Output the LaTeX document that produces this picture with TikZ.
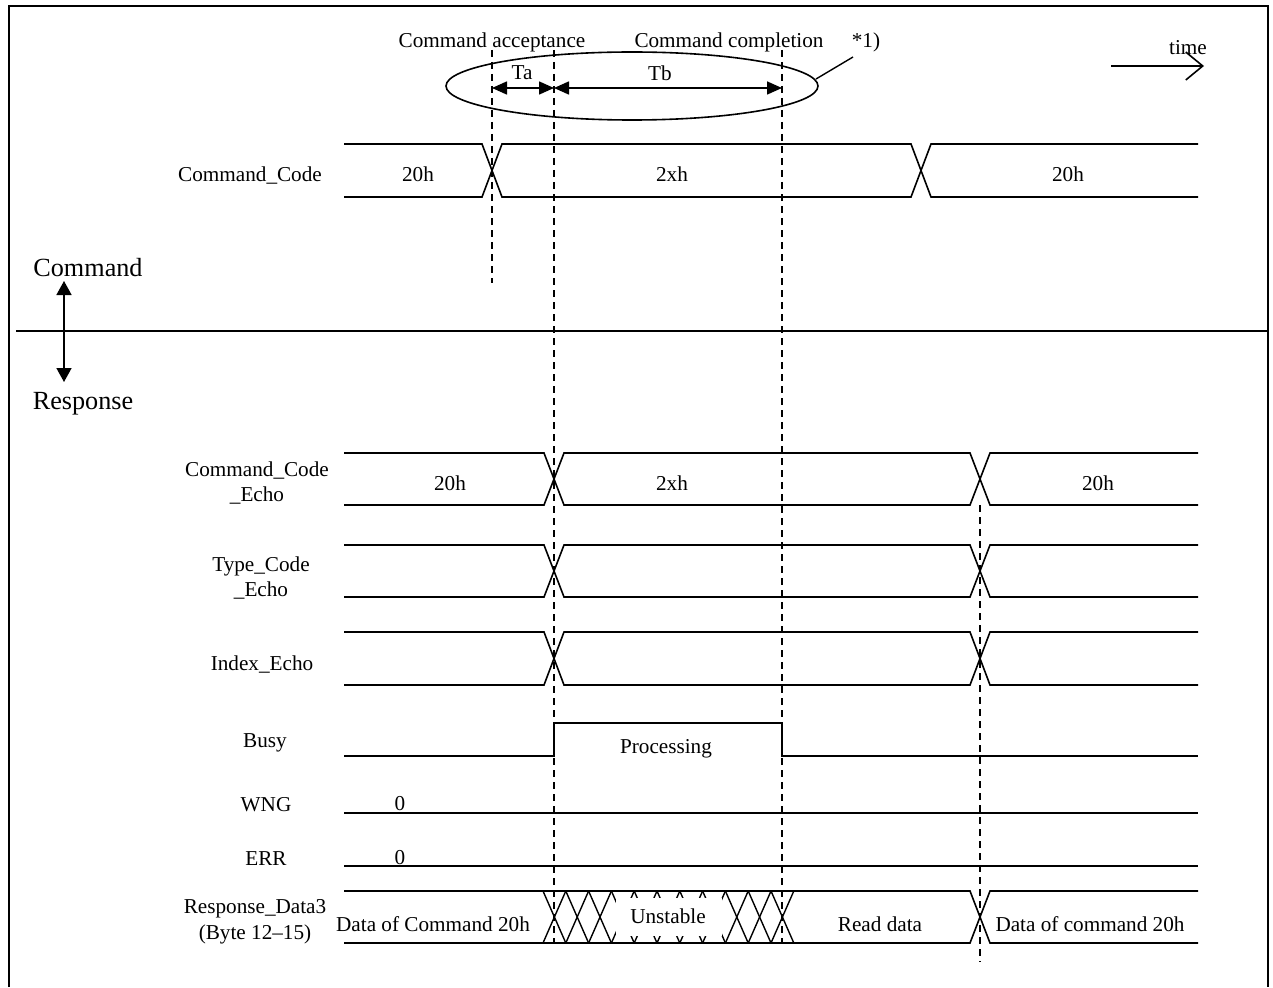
\documentclass[tikz,border=0pt]{standalone}
\usepackage{fontspec}
\setmainfont{Liberation Serif}
\usetikzlibrary{arrows.meta,shapes.geometric}
\newcommand\myBus[4]{%
  \draw[sig] (344,#1) -- ({#3-10},#1) -- ({#3+10},#2) -- ({#4-10},#2) -- ({#4+10},#1) -- (1198,#1);
  \draw[sig] (344,#2) -- ({#3-10},#2) -- ({#3+10},#1) -- ({#4-10},#1) -- ({#4+10},#2) -- (1198,#2);}
\begin{document}
\begin{tikzpicture}[x=1pt,y=-1pt,
  font=\fontsize{21.2pt}{25.5pt}\selectfont,
  sig/.style={line width=1.6pt, line join=miter},
  dsh/.style={line width=1.5pt, dash pattern=on 7pt off 5pt},
  lbl/.style={inner sep=0pt, align=center},
  big/.style={inner sep=0pt, font=\fontsize{26.2pt}{30pt}\selectfont},
  dbl/.style={line width=1.6pt, {Triangle[length=15pt,width=13pt]}-{Triangle[length=15pt,width=13pt]}}]
\useasboundingbox (0,0) rectangle (1273,987);
% frame
\draw[line width=2.6pt] (9,987) -- (9,6) -- (1268,6) -- (1268,987);
% divider
\draw[sig] (16,331) -- (1268,331);
% Command/Response
\node[big] (cmd) at (88,268) {Command};
\node[big] (rsp) at (83,404) {Response};
\coordinate (ct) at (64,281);
\coordinate (cb) at (64,382);
\draw[line width=1.6pt, {Triangle[length=14pt,width=15pt]}-{Triangle[length=14pt,width=15pt]}] (ct) -- (cb);
% time arrow
\coordinate (t0) at (1111,66);
\coordinate (t1) at (1204,66);
\draw[line width=1.6pt, -{Straight Barb[length=17pt,width=28pt,line width=1.6pt]}] (t0) -- (t1);
\node[lbl] (time) at (1188,48) {time};
% dashed lines
\coordinate (a0) at (492,50);  \coordinate (a1) at (492,283);
\coordinate (b0) at (554,50);  \coordinate (b1) at (554,943);
\coordinate (c0) at (782,50);  \coordinate (c1) at (782,943);
\coordinate (d0) at (980,505); \coordinate (d1) at (980,962);
\draw[dsh] (a0) -- (a1);
\draw[dsh] (b0) -- (b1);
\draw[dsh] (c0) -- (c1);
\draw[dsh] (d0) -- (d1);
% top annotations
\node[lbl] (acc) at (492,42) {Command acceptance};
\node[lbl] (cmp) at (729,42) {Command completion};
\node[lbl] (note) at (866,42) {*1)};
\node[draw, line width=1.6pt, ellipse, minimum width=372pt, minimum height=68pt, inner sep=0pt] (ell) at (632,86) {};
\coordinate (ep) at (816,79);
\coordinate (pl) at (853,57);
\draw[line width=1.4pt] (ep) -- (pl);
\coordinate (ta0) at (492,88); \coordinate (ta1) at (554,88); \coordinate (tb1) at (782,88);
\draw[dbl] (ta0) -- (ta1);
\draw[dbl] (ta1) -- (tb1);
\node[lbl] (ta) at (522,73) {Ta};
\node[lbl] (tb) at (660,73) {Tb};
% Command_Code row
\myBus{144}{197}{492}{921}
\node[lbl] (l1) at (250,176) {Command\_Code};
\node[lbl] (v11) at (418,174) {20h};
\node[lbl] (v12) at (672,174) {2xh};
\node[lbl] (v13) at (1068,174) {20h};
% Command_Code_Echo
\myBus{453}{505}{554}{980}
\node[lbl] (l2) at (257,483) {Command\_Code\\\_Echo};
\node[lbl] (v21) at (450,483) {20h};
\node[lbl] (v22) at (672,483) {2xh};
\node[lbl] (v23) at (1098,483) {20h};
% Type_Code_Echo
\myBus{545}{597}{554}{980}
\node[lbl] (l3) at (261,578) {Type\_Code\\\_Echo};
% Index_Echo
\myBus{632}{685}{554}{980}
\node[lbl] (l4) at (262,665) {Index\_Echo};
% Busy
\draw[sig] (344,756) -- (554,756) -- (554,723) -- (782,723) -- (782,756) -- (1198,756);
\node[lbl] (l5) at (265,743) {Busy};
\node[lbl] (proc) at (666,749) {Processing};
% WNG
\draw[sig] (344,813) -- (1198,813);
\node[lbl] (l6) at (266,805) {WNG};
\node[lbl] (w0) at (400,804) {0};
% ERR
\draw[sig] (344,866) -- (1198,866);
\node[lbl] (l7) at (266,859) {ERR};
\node[lbl] (e0) at (400,858) {0};
% Response_Data3
\draw[sig] (344,891) -- (970,891) -- (990,943) -- (1198,943);
\draw[sig] (344,943) -- (970,943) -- (990,891) -- (1198,891);
\foreach \k in {0,...,10} {
  \pgfmathsetmacro\xa{543+\k*22.8}
  \pgfmathsetmacro\xb{543+(\k+1)*22.8}
  \draw[line width=1.4pt] (\xa,891) -- (\xb,943);
  \draw[line width=1.4pt] (\xa,943) -- (\xb,891);
}
\fill[white] (616,898) rectangle (722,936);
\node[lbl] (uns) at (668,916) {Unstable};
\node[lbl] (l8) at (255,922) {Response\_Data3\\(Byte 12–15)};
\node[lbl] (r1) at (433,924) {Data of Command 20h};
\node[lbl] (r2) at (880,924) {Read data};
\node[lbl] (r3) at (1090,924) {Data of command 20h};
\end{tikzpicture}
\end{document}
